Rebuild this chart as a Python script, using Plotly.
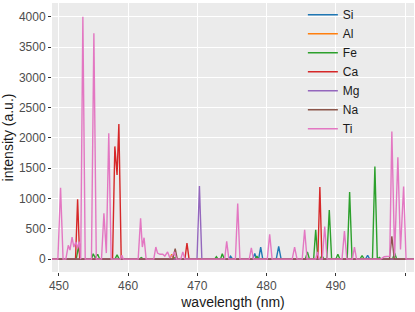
import plotly.graph_objects as go

# Spectral lines per element: wavelength (nm) and intensity (a.u.)
si_wl = [449.0, 474.5, 474.8, 475.1, 478.0, 478.3, 478.55, 478.85, 479.15, 479.45,
         481.4, 481.75, 482.1, 494.3, 494.6, 494.9, 501.3]
si_int = [0, 0, 50, 0, 0, 95, 0, 0, 200, 0,
          0, 212, 0, 0, 65, 0, 0]

al_wl = [449.0, 466.0, 466.3, 466.6, 501.3]
al_int = [0, 0, 80, 0, 0]

fe_wl = [449.0, 452.5, 452.84, 453.1, 454.7, 454.95, 455.25, 455.6, 455.9,
         458.1, 458.4, 458.7, 461.6, 461.9, 462.2, 466.5, 466.8, 467.1,
         472.5, 472.75, 473.0, 473.35, 473.6, 473.9, 478.35, 478.6, 478.85,
         485.6, 485.9, 486.2, 486.8, 487.1, 487.4, 487.75, 488.0, 488.3,
         488.7, 489.06, 489.4, 490.0, 490.3, 490.6, 491.65, 492.0, 492.35,
         493.5, 493.8, 494.1, 495.3, 495.65, 496.0, 496.3, 496.6,
         498.2, 498.5, 498.8, 501.3]
fe_int = [0, 0, 212, 0, 0, 90, 20, 80, 0,
          0, 70, 0, 0, 25, 0, 0, 30, 0,
          0, 40, 0, 0, 90, 0, 0, 50, 0,
          0, 120, 0, 0, 485, 0, 0, 60, 0,
          0, 810, 0, 0, 80, 0, 0, 1110, 0,
          0, 60, 0, 0, 1530, 0, 30, 0,
          0, 100, 0, 0]

ca_wl = [449.0, 452.4, 452.7, 453.0, 457.75, 458.08, 458.4, 458.66, 459.0,
         468.2, 468.5, 468.8, 487.4, 487.7, 488.0, 501.3]
ca_int = [0, 0, 990, 0, 0, 1861, 1388, 2232, 0,
          0, 266, 0, 0, 1190, 0, 0]

mg_wl = [449.0, 469.95, 470.3, 470.65, 501.3]
mg_int = [0, 0, 1208, 0, 0]

na_wl = [449.0, 466.45, 466.8, 467.1, 497.75, 498.1, 498.45, 501.3]
na_int = [0, 0, 175, 0, 0, 375, 0, 0]

ti_wl = [449.0, 449.85, 450.24, 450.6, 451.0, 451.35, 451.6, 451.9, 452.15,
         452.45, 452.7, 452.93, 453.15, 453.46, 453.8, 454.7, 455.05, 455.4,
         456.15, 456.5, 456.85, 457.2, 457.55, 458.9, 459.1, 459.3,
         461.45, 461.8, 462.05, 462.3, 462.6, 463.7, 464.0, 464.25, 464.6,
         465.0, 465.3, 465.7, 466.0, 466.4, 466.7, 467.0, 467.6, 467.9, 468.2,
         473.95, 474.24, 474.55, 475.5, 475.83, 476.15, 477.5, 477.8, 478.1,
         480.1, 480.45, 480.8, 483.7, 484.05, 484.4, 485.15, 485.5, 485.85,
         487.1, 487.35, 487.6, 488.05, 488.4, 488.75, 490.9, 491.25, 491.6,
         492.4, 492.7, 493.0, 496.5, 497.0, 497.5, 497.8, 498.1, 498.5,
         498.97, 499.35, 499.8, 500.15, 501.3]
ti_int = [0, 0, 1180, 0, 0, 228, 150, 364, 200,
          283, 180, 290, 0, 4000, 0, 0, 3727, 0,
          0, 757, 100, 2078, 0, 0, 65, 0,
          0, 675, 200, 354, 0, 0, 200, 100, 80,
          80, 50, 120, 30, 60, 120, 0, 0, 120, 0,
          0, 294, 0, 0, 920, 0, 0, 185, 0,
          0, 408, 0, 0, 200, 0, 0, 485, 0,
          0, 120, 0, 0, 540, 0, 0, 463, 0,
          0, 200, 0, 0, 40, 50, 50, 2105, 50,
          1680, 160, 1200, 0, 0]

elements = ["Si", "Al", "Fe", "Ca", "Mg", "Na", "Ti"]
colors = ["#1f77b4", "#ff7f0e", "#2ca02c", "#d62728", "#9467bd", "#8c564b", "#e377c2"]
x_ticks = [450, 460, 470, 480, 490, 500]
x_tick_labels = ["450", "460", "470", "480", "490", ""]
y_ticks = [0, 500, 1000, 1500, 2000, 2500, 3000, 3500, 4000]

series = [
    (si_wl, si_int), (al_wl, al_int), (fe_wl, fe_int), (ca_wl, ca_int),
    (mg_wl, mg_int), (na_wl, na_int), (ti_wl, ti_int),
]

fig = go.Figure()
for name, color, (wl, inten) in zip(elements, colors, series):
    fig.add_trace(go.Scatter(
        x=wl, y=inten, name=name, mode="lines",
        line=dict(color=color, width=1.4),
    ))

fig.update_layout(
    width=415, height=312,
    margin=dict(l=52, r=1, t=0, b=40),
    paper_bgcolor="white",
    plot_bgcolor="#EBEBEB",
    font=dict(family="Liberation Sans, Arial, sans-serif", color="#4D4D4D", size=12),
    showlegend=True,
    legend=dict(
        x=0.693, y=1.01, xanchor="left", yanchor="top",
        bgcolor="rgba(0,0,0,0)",
        font=dict(size=12, color="#1A1A1A"),
    ),
)

fig.update_xaxes(
    range=[449.0, 501.3],
    tickvals=x_ticks, ticktext=x_tick_labels,
    showgrid=True, gridcolor="white", gridwidth=1.1,
    zeroline=False, automargin=False,
    ticks="outside", ticklen=3, tickcolor="#333333",
    tickfont=dict(size=12, color="#4D4D4D"),
    title=dict(text="wavelength (nm)", font=dict(size=14, color="#1A1A1A"), standoff=4),
)
fig.update_yaxes(
    range=[-212, 4228],
    tickvals=y_ticks,
    showgrid=True, gridcolor="white", gridwidth=1.1,
    zeroline=False, automargin=False,
    ticks="outside", ticklen=3, tickcolor="#333333",
    tickfont=dict(size=12, color="#4D4D4D"),
    title=dict(text="intensity (a.u.)", font=dict(size=14, color="#1A1A1A"), standoff=4),
)

# the page body has a default 8px margin; drop it so the figure fills the window
fig.write_html(
    "out.html",
    config={"displayModeBar": False},
    post_script="document.body.style.margin='0';",
)
